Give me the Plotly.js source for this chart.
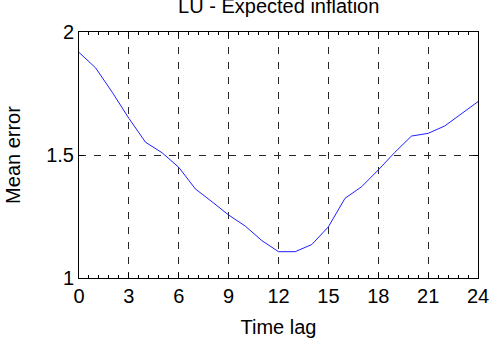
<!DOCTYPE html>
<html>
<head>
<meta charset="utf-8">
<script src="https://cdn.plot.ly/plotly-3.0.1.min.js"></script>
<style>html,body{margin:0;padding:0;background:#fff;}#chart{width:492px;height:350px;}</style>
</head>
<body>
<div id="chart"></div>
<script>
const timeLag = [0,1,2,3,4,5,6,7,8,9,10,11,12,13,14,15,16,17,18,19,20,21,22,23,24];
const meanError = [1.917,1.854,1.755,1.649,1.552,1.509,1.45,1.362,1.31,1.256,1.211,1.152,1.107,1.107,1.136,1.208,1.324,1.371,1.439,1.511,1.577,1.588,1.618,1.668,1.717];
const xTicks = [0,3,6,9,12,15,18,21,24];
const yTicks = [1,1.5,2];
const titleText = 'LU - Expected inflation';
const xTitle = 'Time lag';
const yTitle = 'Mean error';

const font = {family: 'Liberation Sans, Arial, sans-serif', size: 20, color: '#000'};

Plotly.newPlot('chart', [{
  x: timeLag, y: meanError, type: 'scatter', mode: 'lines',
  line: {color: '#1f1fff', width: 1}, hoverinfo: 'skip'
}], {
  width: 492, height: 350,
  margin: {l: 79, r: 14, t: 32, b: 72, pad: 0},
  paper_bgcolor: '#fff', plot_bgcolor: '#fff',
  showlegend: false,
  font: font,
  title: {text: titleText, font: {family: font.family, size: 20, color: '#000'},
          x: 0.5665, xanchor: 'center', y: 0.984, yref: 'container', yanchor: 'middle'},
  xaxis: {
    range: [0, 24], tickvals: xTicks, ticktext: xTicks.map(String),
    showline: true, linecolor: '#000', linewidth: 1, mirror: 'ticks',
    ticks: 'inside', ticklen: 5, tickcolor: '#000',
    showgrid: true, gridcolor: '#262626', gridwidth: 1, griddash: '7px,8px',
    zeroline: false,
    minor: {dtick: 0.6, tick0: 0, ticks: 'inside', ticklen: 3, tickcolor: '#000', showgrid: false},
    tickfont: font,
    title: {text: xTitle, font: font, standoff: 13}
  },
  yaxis: {
    range: [1, 2], tickvals: yTicks, ticktext: ['1','1.5','2'],
    showline: true, linecolor: '#000', linewidth: 1, mirror: 'ticks',
    ticks: 'inside', ticklen: 5, tickcolor: '#000',
    showgrid: true, gridcolor: '#262626', gridwidth: 1, griddash: '7px,8px',
    zeroline: false,
    tickfont: font,
    title: {text: yTitle, font: font, standoff: 20}
  }
}, {staticPlot: true});
</script>
</body>
</html>
